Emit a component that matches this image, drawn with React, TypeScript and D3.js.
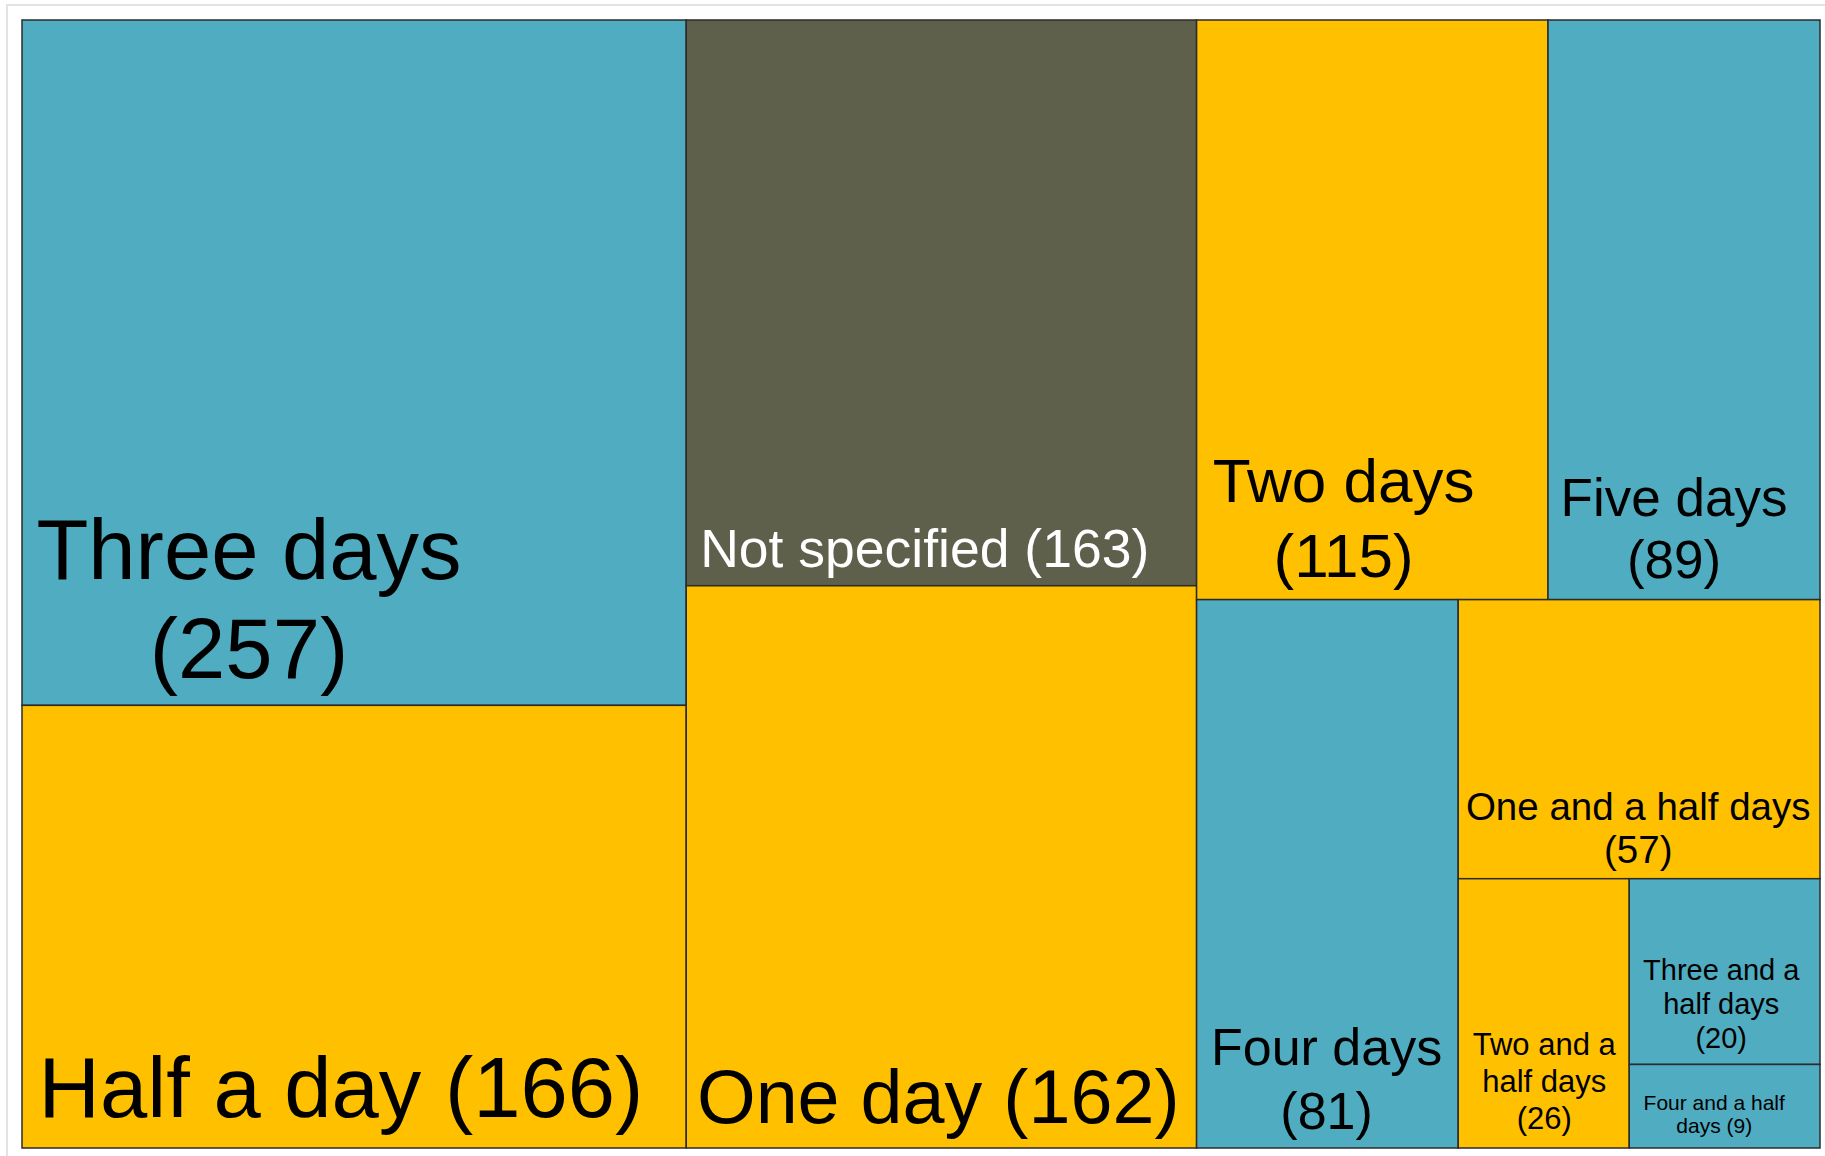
import React from "react";
import * as d3 from "d3";

const categories = [
  "Three days",
  "Half a day",
  "Not specified",
  "One day",
  "Two days",
  "Five days",
  "Four days",
  "One and a half days",
  "Two and a half days",
  "Three and a half days",
  "Four and a half days",
];
const counts = [257, 166, 163, 162, 115, 89, 81, 57, 26, 20, 9];
const colorGroup = ["teal", "gold", "dark", "gold", "gold", "teal", "teal", "gold", "gold", "teal", "teal"];
const labelLines = [
  ["Three days", "(257)"],
  ["Half a day (166)"],
  ["Not specified (163)"],
  ["One day (162)"],
  ["Two days", "(115)"],
  ["Five days", "(89)"],
  ["Four days", "(81)"],
  ["One and a half days", "(57)"],
  ["Two and a", "half days", "(26)"],
  ["Three and a", "half days", "(20)"],
  ["Four and a half", "days (9)"],
];

// how many cells go into each successive strip of the layout
const stripSizes = [2, 2, 2, 1, 1, 1, 1, 1];

// label styling (size, center offset from cell left, last baseline offset from cell bottom, line height)
const labelStyle = [
  { size: 85, cx: 227, bottom: 27, lh: 99 },
  { size: 85, cx: 319, bottom: 31, lh: 0 },
  { size: 53.5, cx: 238.5, bottom: 19, lh: 0 },
  { size: 75.5, cx: 252, bottom: 25, lh: 0 },
  { size: 62, cx: 147, bottom: 23, lh: 75 },
  { size: 53, cx: 126, bottom: 22, lh: 62 },
  { size: 52, cx: 130, bottom: 19, lh: 64 },
  { size: 38.5, cx: 180, bottom: 16, lh: 43 },
  { size: 31, cx: 86, bottom: 19, lh: 37 },
  { size: 29, cx: 92, bottom: 16, lh: 34 },
  { size: 21, cx: 85, bottom: 15, lh: 23 },
];

const palette: Record<string, string> = { teal: "#4FACC1", gold: "#FFC000", dark: "#5E604C" };
const textColor: Record<string, string> = { teal: "#000", gold: "#000", dark: "#fff" };

const W = 1825;
const H = 1156;
const X0 = 22;
const Y0 = 20;
const X1 = 1820;
const Y1 = 1148;

function stripTile(parent: any, x0: number, y0: number, x1: number, y1: number) {
  const nodes = parent.children;
  let value = parent.value;
  let i0 = 0;
  for (const size of stripSizes) {
    if (i0 >= nodes.length) break;
    const kids = nodes.slice(i0, i0 + size);
    const rv = d3.sum(kids, (k: any) => k.value);
    const row: any = { value: rv, children: kids };
    const dx = x1 - x0;
    const dy = y1 - y0;
    if (dx < dy) {
      const yy = y0 + (dy * rv) / value;
      d3.treemapDice(row, x0, y0, x1, yy);
      y0 = yy;
    } else {
      const xx = x0 + (dx * rv) / value;
      d3.treemapSlice(row, x0, y0, xx, y1);
      x0 = xx;
    }
    value -= rv;
    i0 += size;
  }
}

export default function App() {
  const data = categories.map((name, i) => ({ name, value: counts[i], i }));
  const root = d3
    .hierarchy<any>({ children: data })
    .sum((d: any) => d.value || 0)
    .sort((a, b) => (b.value || 0) - (a.value || 0));
  d3.treemap<any>()
    .size([X1 - X0, Y1 - Y0])
    .tile(stripTile as any)
    .paddingInner(0)(root);
  const leaves = root.leaves() as any[];

  return (
    <svg
      width={W}
      height={H}
      style={{ position: "absolute", left: 0, top: 0, background: "#fff" }}
      fontFamily="'Liberation Sans', Arial, sans-serif"
    >
      <rect x={7} y={5} width={W} height={H} fill="#fff" stroke="#e3e3e3" strokeWidth={2} />
      <g transform={`translate(${X0},${Y0})`}>
        {leaves.map((leaf) => {
          const i = leaf.data.i;
          const g = colorGroup[i];
          return (
            <rect
              key={"r" + i}
              x={leaf.x0}
              y={leaf.y0}
              width={leaf.x1 - leaf.x0}
              height={leaf.y1 - leaf.y0}
              fill={palette[g]}
              stroke="#2b2b2b"
              strokeWidth={1.5}
            />
          );
        })}
        {leaves.map((leaf) => {
          const i = leaf.data.i;
          const st = labelStyle[i];
          const lines = labelLines[i];
          const g = colorGroup[i];
          const cx = leaf.x0 + st.cx;
          const lastBase = leaf.y1 - st.bottom;
          return (
            <text key={"t" + i} textAnchor="middle" fontSize={st.size} fill={textColor[g]}>
              {lines.map((ln, k) => (
                <tspan key={k} x={cx} y={lastBase - (lines.length - 1 - k) * st.lh}>
                  {ln}
                </tspan>
              ))}
            </text>
          );
        })}
      </g>
    </svg>
  );
}
